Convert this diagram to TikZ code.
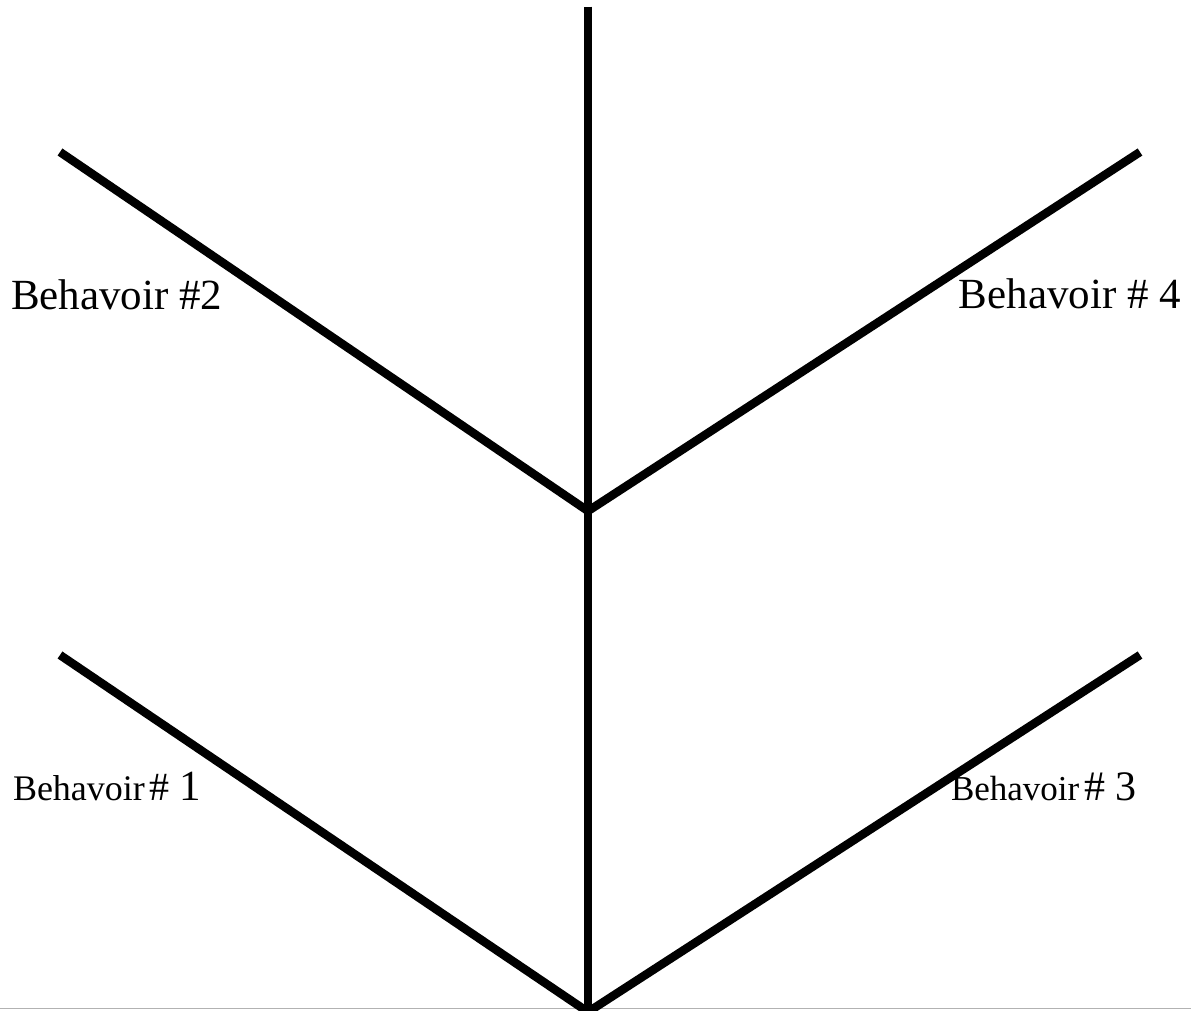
\documentclass[tikz,border=0pt]{standalone}
\usepackage{fontspec}
\setmainfont{Liberation Serif}
\begin{document}
\begin{tikzpicture}[x=1pt,y=-1pt,
  branch/.style={line width=8.5pt,line cap=butt,black},
  lbl/.style={inner sep=0pt,outer sep=0pt}]
\useasboundingbox (0,0) rectangle (1191,1010);
\coordinate (top) at (588,6.5);
\coordinate (mid) at (588,511);
\coordinate (bot) at (588,1012);
\coordinate (ul) at (60,152);
\coordinate (ur) at (1140,152);
\coordinate (ll) at (60,655);
\coordinate (lr) at (1140,655);
\coordinate (gl) at (0,1008.5);
\coordinate (gr) at (1191,1008.5);
\draw[line width=1.2pt,gray!60] (gl) -- (gr);
\draw[branch] (top) -- (bot);
\draw[branch,line join=miter] (ul) -- (mid) -- (ur);
\draw[branch,line join=miter] (ll) -- (bot) -- (lr);
\node[lbl,anchor=base west,font=\fontsize{43}{47}\selectfont] (b2) at (11,309) {Behavoir \#2};
\node[lbl,anchor=base east,font=\fontsize{43}{47}\selectfont] (b4) at (1181,308) {Behavoir \# 4};
\node[lbl,anchor=base west] (b1) at (13,800) {\fontsize{36}{40}\selectfont Behavoir\kern5pt\fontsize{40}{45}\selectfont\# \fontsize{43}{48}\selectfont 1};
\node[lbl,anchor=base west] (b3) at (951,800) {\fontsize{35}{40}\selectfont Behavoir\kern5pt\fontsize{42}{48}\selectfont\# 3};
\end{tikzpicture}
\end{document}
